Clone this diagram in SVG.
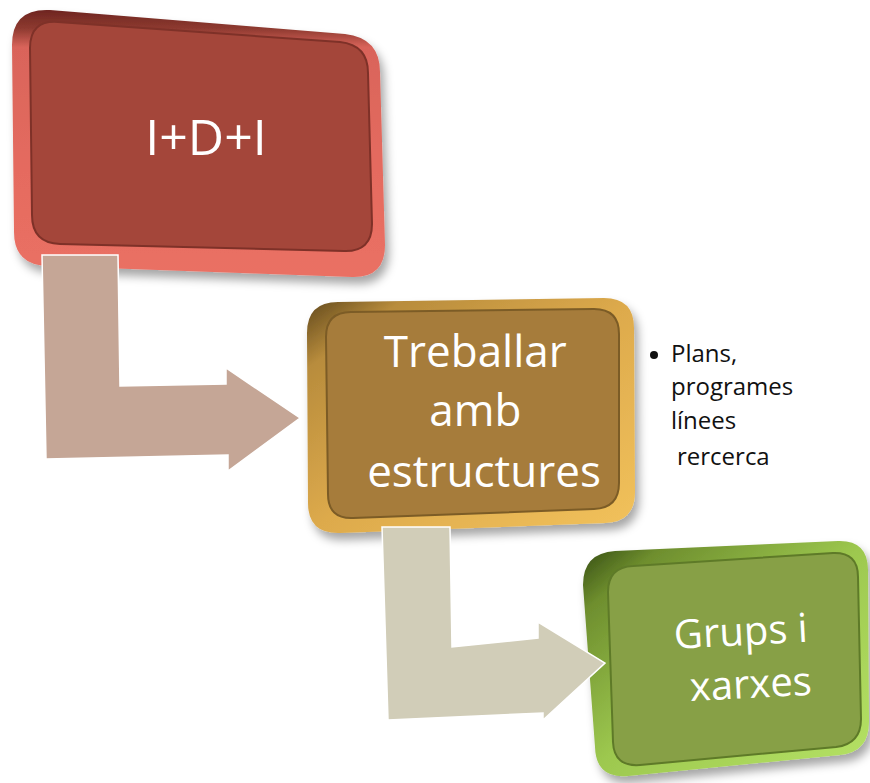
<svg xmlns="http://www.w3.org/2000/svg" width="870" height="783" viewBox="0 0 870 783">
<defs>
  <filter id="shadow" x="-10%" y="-10%" width="125%" height="130%">
    <feDropShadow dx="4" dy="7" stdDeviation="5" flood-color="#000" flood-opacity="0.35"/>
  </filter>
  <filter id="soft" x="-5%" y="-5%" width="110%" height="110%">
    <feGaussianBlur stdDeviation="1.5"/>
  </filter>
  <linearGradient id="rimRed" x1="0" y1="0" x2="0" y2="1">
    <stop offset="0" stop-color="#6E2520"/>
    <stop offset="0.07" stop-color="#8E3A30"/>
    <stop offset="0.14" stop-color="#D9645A"/>
    <stop offset="0.6" stop-color="#E56B5F"/>
    <stop offset="1" stop-color="#EA7064"/>
  </linearGradient>
  <linearGradient id="rimGold" x1="0" y1="0" x2="1" y2="1">
    <stop offset="0" stop-color="#5E461C"/>
    <stop offset="0.15" stop-color="#B88C3C"/>
    <stop offset="0.5" stop-color="#DDAA4C"/>
    <stop offset="1" stop-color="#F2C25C"/>
  </linearGradient>
  <linearGradient id="rimGreen" x1="0" y1="0" x2="1" y2="1">
    <stop offset="0" stop-color="#2F4510"/>
    <stop offset="0.15" stop-color="#6E8E2E"/>
    <stop offset="0.5" stop-color="#9DC84F"/>
    <stop offset="1" stop-color="#B6E366"/>
  </linearGradient>
  <style>
    .lbl { font-family: "Open Sans", "Liberation Sans", sans-serif; fill: #FFFFFF; text-anchor: middle; }
    .note { font-family: "Open Sans", "Liberation Sans", sans-serif; fill: #111111; font-size: 24px; }
    .face { stroke-width: 2; }
    .arrow { stroke: #FFFFFF; stroke-width: 1.5; stroke-linejoin: miter; }
  </style>
</defs>
<rect width="870" height="783" fill="#FFFFFF"/>

<g id="node-idi">
  <path filter="url(#shadow)" fill="url(#rimRed)" d="M 12,45 Q 12,8 50,10 L 345,34 Q 380,38 380,72 L 385,245 Q 385,278 352,277 L 48,266 Q 14,265 14,232 Z"/>
  <path class="face" fill="#A4463A" stroke="#7E3128" d="M 30,48 Q 30,20 58,22 L 340,42 Q 368,45 368,73 L 372,224 Q 372,252 344,251 L 60,244 Q 32,243 32,215 Z"/>
  <text class="lbl" x="206" y="155" font-size="50">I+D+I</text>
</g>

<g id="node-estructures">
  <path filter="url(#shadow)" fill="url(#rimGold)" d="M 307,333 Q 307,302 338,302 L 604,298 Q 634,298 634,328 L 635,492 Q 635,522 605,523 L 340,533 Q 308,534 308,503 Z"/>
  <path class="face" fill="#A67C3B" stroke="#7C5C26" d="M 326,337 Q 326,312 351,312 L 594,309 Q 619,309 619,334 L 619,483 Q 619,508 594,509 L 353,518 Q 328,519 328,494 Z"/>
  <text class="lbl" font-size="44">
    <tspan x="481" y="367">Treballar</tspan>
    <tspan x="481" y="426">amb</tspan>
    <tspan x="484" y="487">estructures</tspan>
  </text>
</g>

<g id="node-notes">
  <circle cx="654" cy="355" r="4" fill="#111111"/>
  <text class="note">
    <tspan x="671" y="362">Plans,</tspan>
    <tspan x="671" y="395">programes</tspan>
    <tspan x="671" y="429">línees</tspan>
    <tspan x="677" y="465">rercerca</tspan>
  </text>
</g>

<g id="node-grups">
  <path filter="url(#shadow)" fill="url(#rimGreen)" d="M 583,585 Q 583,553 615,551 L 838,541 Q 868,540 868,570 L 869,722 Q 869,752 840,755 L 628,776 Q 596,779 595,747 Z"/>
  <path class="face" fill="#87A046" stroke="#5E7A28" d="M 608,592 Q 608,567 633,566 L 833,553 Q 858,552 858,577 L 861,719 Q 861,744 836,747 L 640,765 Q 614,767 613,742 Z"/>
  <g transform="rotate(-3 748 670)">
    <text class="lbl" font-size="40">
      <tspan x="748" y="645">Grups i</tspan>
      <tspan x="750" y="698">xarxes</tspan>
    </text>
  </g>
</g>

<g id="connectors">
  <polygon class="arrow" fill="#C5A696" points="42,255 118,255 120,386 226,384 226,368 300,418 228,471 228,455 46,459"/>
  <polygon class="arrow" fill="#D1CDB8" points="382,527 450,527 452,647 538,638 538,622 605,663 543,720 543,713 388,720"/>
</g>
</svg>
